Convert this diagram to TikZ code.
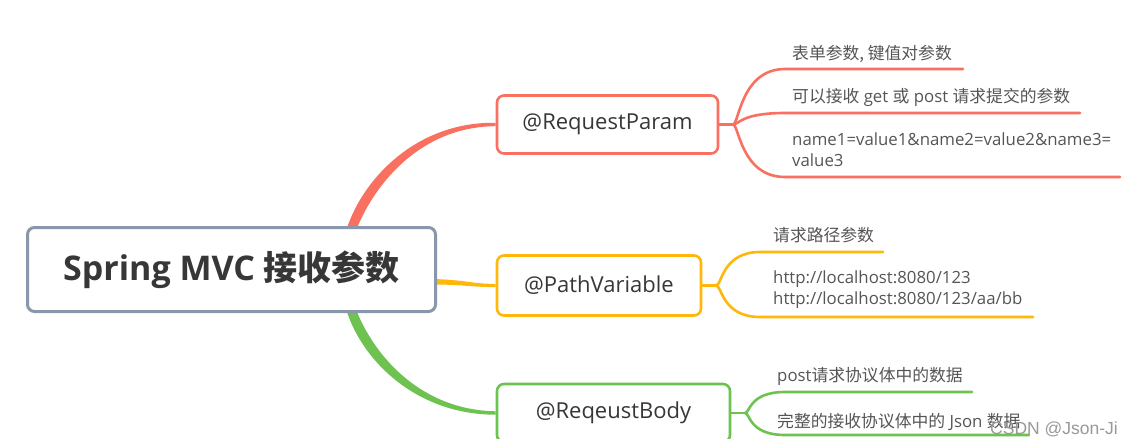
\documentclass[tikz,border=0pt]{standalone}
\usepackage{fontspec}
\setmainfont{Open Sans}
\newfontfamily\cjk{Noto Sans CJK SC}
\newfontfamily\wmfont{Liberation Sans}
\usetikzlibrary{backgrounds,calc}
\definecolor{cred}{RGB}{250,112,96}
\definecolor{corange}{RGB}{255,183,10}
\definecolor{cgreen}{RGB}{110,194,80}
\definecolor{cgrey}{RGB}{138,150,170}
\definecolor{ctext}{RGB}{55,55,55}
\definecolor{cleaf}{RGB}{85,85,85}
\tikzset{
  rootbox/.style={draw=cgrey, line width=3pt, rounded corners=7pt, fill=white,
    minimum width=408, minimum height=84, inner sep=0pt, text=ctext,
    font=\fontsize{34}{40}\selectfont\bfseries},
  branchbox/.style={line width=2.6pt, rounded corners=7pt, fill=white,
    inner sep=0pt, text=ctext, font=\fontsize{22}{26}\selectfont},
  leaf/.style={inner sep=0pt, text=cleaf, font=\fontsize{16.8}{21}\selectfont},
  leafline/.style={line width=2.6pt, line cap=round},
  mark text/.style={inner sep=0pt, text=black!40, font=\wmfont\fontsize{17.5}{20}\selectfont}
}
\begin{document}
\begin{tikzpicture}[x=1pt,y=-1pt]
\useasboundingbox (0,0) rectangle (1135,439);

% nodes
\node[rootbox] (root) at (231.5,269.5) {Spring MVC {\cjk 接收参数}};
\node[branchbox, draw=cred, minimum width=221, minimum height=58] (rp) at (607.5,124.5) {@RequestParam};
\node[branchbox, draw=corange, minimum width=204, minimum height=60] (pv) at (599,285.5) {@PathVariable};
\node[branchbox, draw=cgreen, minimum width=233, minimum height=58] (rb) at (613.5,413) {@ReqeustBody};

% leaf texts
\node[leaf, anchor=base west] (t1) at (792,59) {\cjk 表单参数, 键值对参数};
\node[leaf, anchor=base west] (t2) at (792,102) {{\cjk 可以接收} get {\cjk 或} post {\cjk 请求提交的参数}};
\node[leaf, anchor=base west, align=left] (t3) at (792,166) {name1=value1\&name2=value2\&name3=\\value3};
\node[leaf, anchor=base west] (t4) at (773,241) {\cjk 请求路径参数};
\node[leaf, anchor=base west, align=left] (t5) at (773,304) {http://localhost:8080/123\\http://localhost:8080/123/aa/bb};
\node[leaf, anchor=base west] (t6) at (777,381) {post{\cjk 请求协议体中的数据}};
\node[leaf, anchor=base west] (t7) at (777,427) {{\cjk 完整的接收协议体中的} Json {\cjk 数据}};

% leaf line coordinates
\coordinate (s1) at (733,124.5);
\coordinate (u1a) at (785,69);  \coordinate (u1b) at (963,69);
\coordinate (u2a) at (785,113); \coordinate (u2b) at (1080,113);
\coordinate (u3a) at (785,177); \coordinate (u3b) at (1120,177);
\coordinate (s2) at (716,285.5);
\coordinate (u4a) at (760,252); \coordinate (u4b) at (883,252);
\coordinate (u5a) at (760,317); \coordinate (u5b) at (1033,317);
\coordinate (s3) at (745,413);
\coordinate (u6a) at (785,392); \coordinate (u6b) at (972,392);
\coordinate (u7a) at (785,435); \coordinate (u7b) at (1029,435);

\node[mark text, anchor=base west] (wm) at (990,434) {CSDN @Json-Ji};

\begin{scope}[on background layer]
  \fill[white] (0,0) rectangle (1135,439);
  % main connectors (tapered)
  \fill[cred] (347,240) -- (347,228) .. controls (364,177) and (418,121.5) .. ([yshift=1.7pt]rp.west)
     -- ([yshift=-1.7pt]rp.west) .. controls (422,126.5) and (376,182) .. (357,228) -- (357,240) -- cycle;
  \fill[cgreen] (347,300) -- (347,312) .. controls (364,363) and (418,414.7) .. ([yshift=-1.7pt]rb.west)
     -- ([yshift=1.7pt]rb.west) .. controls (422,410) and (376,358) .. (357,312) -- (357,300) -- cycle;
  \fill[corange] (430,279) .. controls (465,279.5) and (470,283.9) .. ([yshift=1.6pt]pv.west)
     -- ([yshift=-1.6pt]pv.west) .. controls (470,287.1) and (465,284.5) .. (430,284.5) -- cycle;

  % red leaves
  \draw[cred, leafline] (rp.east) -- (s1);
  \draw[cred, leafline] (s1) .. controls ($(s1)+(6,0)$) and ($(u1a)+(-44,0)$) .. (u1a) -- (u1b);
  \draw[cred, leafline] (s1) .. controls ($(s1)+(6,0)$) and ($(u2a)+(-44,0)$) .. (u2a) -- (u2b);
  \draw[cred, leafline] (s1) .. controls ($(s1)+(6,0)$) and ($(u3a)+(-44,0)$) .. (u3a) -- (u3b);
  % orange leaves
  \draw[corange, leafline] (pv.east) -- (s2);
  \draw[corange, leafline] (s2) .. controls ($(s2)+(6,0)$) and ($(u4a)+(-38,0)$) .. (u4a) -- (u4b);
  \draw[corange, leafline] (s2) .. controls ($(s2)+(6,0)$) and ($(u5a)+(-38,0)$) .. (u5a) -- (u5b);
  % green leaves
  \draw[cgreen, leafline] (rb.east) -- (s3);
  \draw[cgreen, leafline] (s3) .. controls ($(s3)+(5,0)$) and ($(u6a)+(-36,0)$) .. (u6a) -- (u6b);
  \draw[cgreen, leafline] (s3) .. controls ($(s3)+(5,0)$) and ($(u7a)+(-36,0)$) .. (u7a) -- (u7b);
\end{scope}
\end{tikzpicture}
\end{document}
